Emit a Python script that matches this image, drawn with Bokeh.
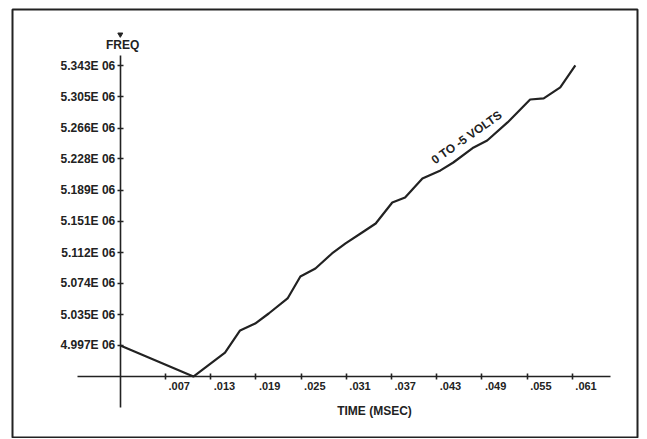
from math import radians
from bokeh.plotting import figure
from bokeh.models import FixedTicker, Range1d, Label
from bokeh.embed import file_html
from bokeh.resources import INLINE

# ---- data ----
time_ms = [0.001, 0.0107, 0.0149, 0.0169, 0.0189, 0.0207, 0.0232, 0.0249, 0.0269,
           0.0291, 0.0309, 0.0331, 0.0349, 0.0371, 0.0388, 0.0411, 0.0435, 0.0452,
           0.0479, 0.0497, 0.0524, 0.0554, 0.0572, 0.0594, 0.0614]
freq_e6 = [4.997, 4.9586, 4.9883, 5.0156, 5.0242, 5.0366, 5.0552, 5.0824, 5.0923,
           5.1109, 5.1233, 5.1369, 5.1480, 5.1740, 5.1802, 5.2037, 5.2137, 5.2235,
           5.2421, 5.2508, 5.2731, 5.3015, 5.3028, 5.3164, 5.3436]

x_ticks = [0.007, 0.013, 0.019, 0.025, 0.031, 0.037, 0.043, 0.049, 0.055, 0.061]
x_tick_labels = [".007", ".013", ".019", ".025", ".031", ".037", ".043", ".049", ".055", ".061"]
y_ticks = [4.997, 5.035, 5.074, 5.112, 5.151, 5.189, 5.228, 5.266, 5.305, 5.343]
y_tick_labels = ["4.997E 06", "5.035E 06", "5.074E 06", "5.112E 06", "5.151E 06",
                 "5.189E 06", "5.228E 06", "5.266E 06", "5.305E 06", "5.343E 06"]

series_label = "0 TO -5 VOLTS"
x_title = "TIME (MSEC)"
y_title = "FREQ"

# ---- layout constants ----
X_RANGE = (-0.01331, 0.06965)
Y_RANGE = (4.8831, 5.4129)
X_AXIS_AT = 4.958      # frequency where the time axis crosses
Y_AXIS_AT = 0.001      # time where the frequency axis crosses
X_BOUNDS = (-0.00468, 0.06607)
Y_BOUNDS = (4.9203, 5.356)
INK = "#222222"
FONT = "Liberation Sans"

p = figure(width=647, height=438, output_backend="svg", toolbar_location=None,
           x_range=Range1d(*X_RANGE), y_range=Range1d(*Y_RANGE),
           min_border_left=12, min_border_right=10, min_border_top=9, min_border_bottom=1)
p.background_fill_color = "white"
p.border_fill_color = "white"
p.outline_line_color = INK
p.outline_line_width = 2
p.xgrid.visible = False
p.ygrid.visible = False

for ax in (p.xaxis, p.yaxis):
    ax.axis_line_color = INK
    ax.axis_line_width = 1.6
    ax.major_tick_line_color = INK
    ax.major_tick_line_width = 1.6
    ax.major_tick_in = 3
    ax.major_tick_out = 3
    ax.minor_tick_line_color = None
    ax.major_label_text_font = FONT
    ax.major_label_text_font_style = "bold"
    ax.major_label_text_color = INK

p.xaxis.fixed_location = X_AXIS_AT
p.yaxis.fixed_location = Y_AXIS_AT
p.xaxis.bounds = X_BOUNDS
p.yaxis.bounds = Y_BOUNDS

p.xaxis.ticker = FixedTicker(ticks=x_ticks)
p.xaxis.major_label_text_color = None   # labels drawn left-aligned below, as in the original

p.yaxis.ticker = FixedTicker(ticks=y_ticks)
p.yaxis.major_label_overrides = dict(zip(y_ticks, y_tick_labels))
p.yaxis.major_label_text_font_size = "12px"
p.yaxis.major_label_standoff = 2

# time tick labels: set just right of each tick, as the plotter printed them
p.text(x=x_ticks, y=[X_AXIS_AT] * len(x_ticks), text=x_tick_labels,
       x_offset=3, y_offset=5, text_align="left", text_baseline="top",
       text_font={"value": FONT}, text_font_size="11px", text_font_style="bold",
       text_color=INK)

p.line(time_ms, freq_e6, line_color=INK, line_width=2.2, line_join="round")

# small arrow head at the top of the frequency axis
p.scatter([Y_AXIS_AT], [5.382], marker="inverted_triangle", size=5,
          fill_color=INK, line_color=INK)

p.add_layout(Label(x=0.0013, y=5.3684, text=y_title, text_align="center",
                   text_baseline="middle", text_font=FONT, text_font_size="12px",
                   text_font_style="bold", text_color=INK))
p.add_layout(Label(x=0.03474, y=4.9165, text=x_title, text_align="center",
                   text_baseline="middle", text_font=FONT, text_font_size="12px",
                   text_font_style="bold", text_color=INK))
p.add_layout(Label(x=0.04696, y=5.2545, text=series_label, angle=radians(35),
                   text_align="center", text_baseline="middle", text_font=FONT,
                   text_font_size="12px", text_font_style="bold", text_color=INK))

open("out.html", "w").write(file_html(p, INLINE))
